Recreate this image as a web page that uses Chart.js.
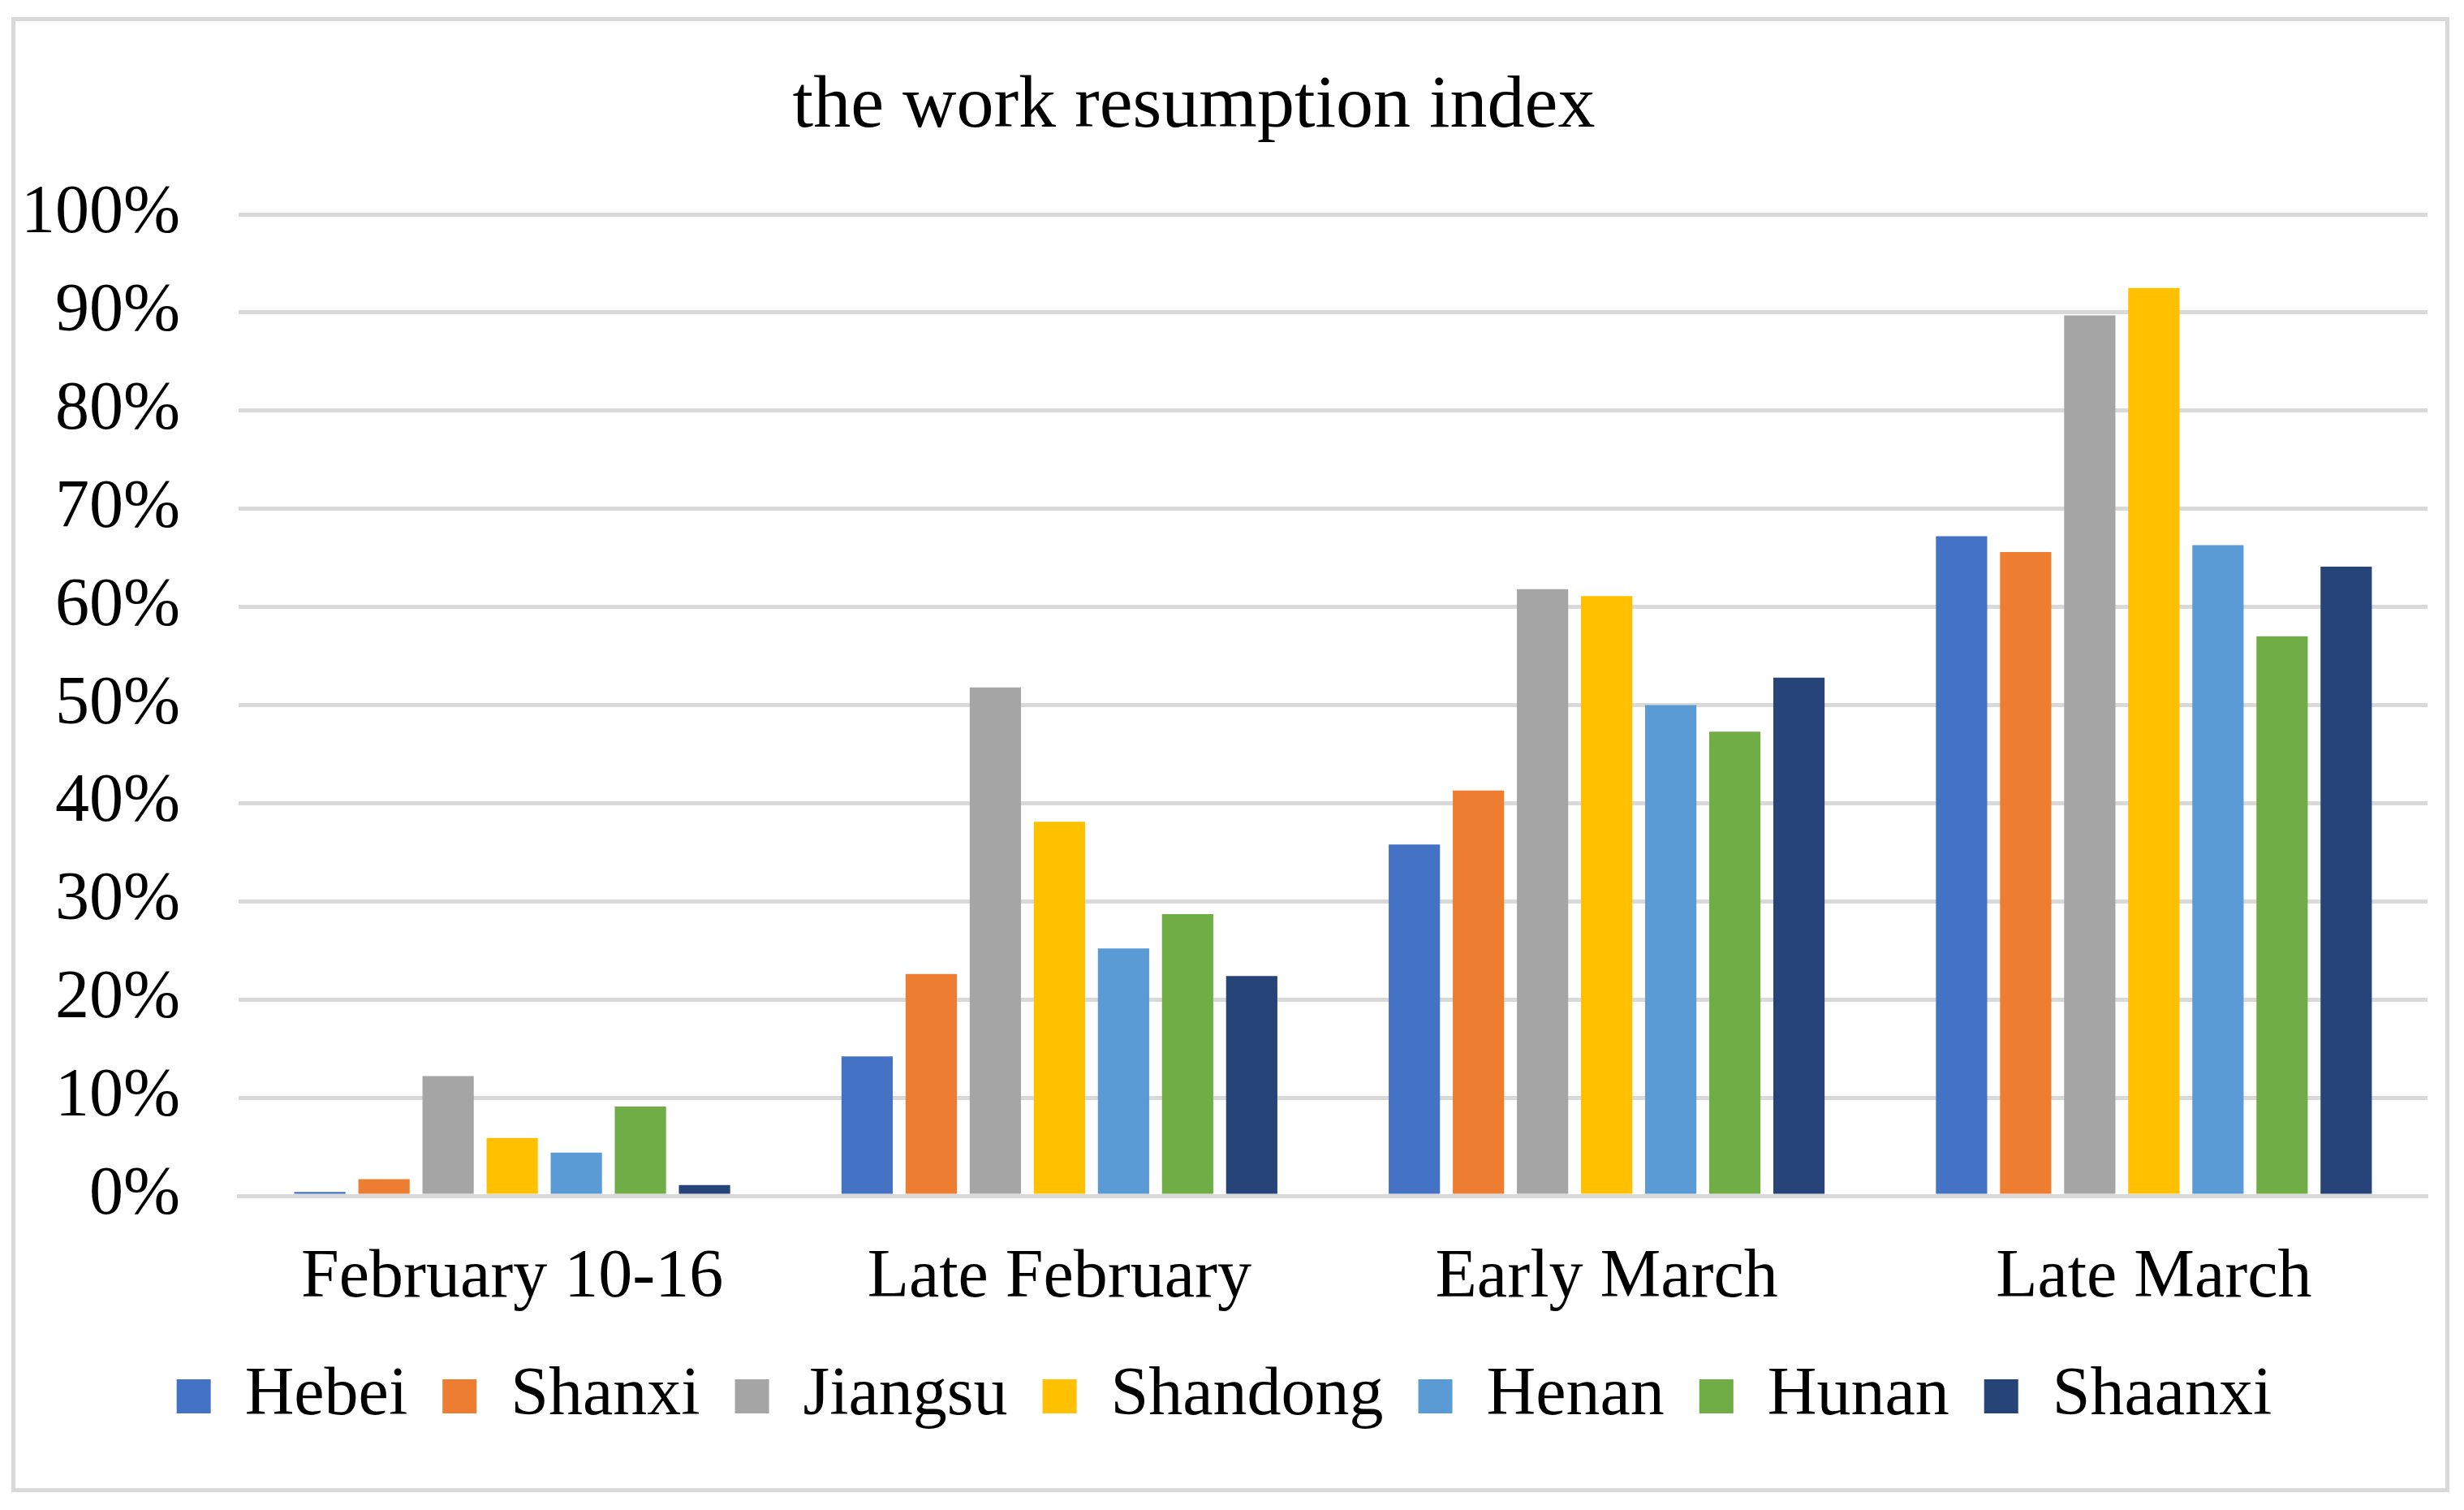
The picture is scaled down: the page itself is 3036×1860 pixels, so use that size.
<!DOCTYPE html>
<html>
<head>
<meta charset="utf-8">
<script src="https://cdn.jsdelivr.net/npm/chart.js@4.4.1/dist/chart.umd.min.js"></script>
<style>
  html, body { margin: 0; padding: 0; background: #fff; }
  #wrap { position: relative; width: 3036px; height: 1860px; }
  #frame {
    position: absolute; left: 14px; top: 21px; width: 3004px; height: 1817px;
    border: 5px solid #d9d9d9; box-sizing: border-box; pointer-events: none;
  }
  #title {
    position: absolute; left: 0; width: 2942px; top: 79px; text-align: center;
    font-family: 'Liberation Serif', 'Times New Roman', serif; font-size: 92px;
    line-height: 1; color: #000; white-space: nowrap;
  }
</style>
</head>
<body>
<div id="wrap">
  <canvas id="chartBar" width="3036" height="1860" style="width:3036px;height:1860px"></canvas>
  <div id="title">the work resumption index</div>
  <div id="frame"></div>
</div>
<script>
/* data (percent) */
var periods = ['February 10-16', 'Late February', 'Early March', 'Late March'];
var hebei    = [0.4, 14.2, 35.8, 67.2];
var shanxi   = [1.7, 22.6, 41.3, 65.6];
var jiangsu  = [12.2, 51.8, 61.8, 89.7];
var shandong = [5.9, 38.1, 61.1, 92.5];
var henan    = [4.4, 25.2, 50.0, 66.3];
var hunan    = [9.1, 28.7, 47.3, 57.0];
var shaanxi  = [1.1, 22.4, 52.8, 64.1];
var yTicks = [0, 10, 20, 30, 40, 50, 60, 70, 80, 90, 100];

var fontFamily = "'Liberation Serif', 'Times New Roman', serif";

function series(label, data, color) {
    return {
        label: label,
        data: data,
        backgroundColor: color,
        borderWidth: 0,
        categoryPercentage: 0.82,
        barPercentage: 0.8
    };
}

var ctx = document.getElementById('chartBar').getContext('2d');
new Chart(ctx, {
    type: 'bar',
    data: {
        labels: periods,
        datasets: [
            series('Hebei', hebei, '#4472C4'),
            series('Shanxi', shanxi, '#ED7D31'),
            series('Jiangsu', jiangsu, '#A5A5A5'),
            series('Shandong', shandong, '#FFC000'),
            series('Henan', henan, '#5B9BD5'),
            series('Hunan', hunan, '#70AD47'),
            series('Shaanxi', shaanxi, '#264478')
        ]
    },
    options: {
        responsive: false,
        animation: false,
        devicePixelRatio: 1,
        layout: { padding: { left: 26, right: 45, top: 264, bottom: 88 } },
        plugins: {
            title: { display: false },
            legend: {
                position: 'bottom',
                labels: {
                    color: '#000',
                    font: { family: fontFamily, size: 84 },
                    boxWidth: 42,
                    boxHeight: 42,
                    padding: 43
                }
            },
            tooltip: { enabled: false }
        },
        scales: {
            x: {
                afterFit: function (scale) { scale.height = 162; },
                grid: { display: false },
                border: { display: true, color: '#d9d9d9', width: 5 },
                ticks: {
                    color: '#000',
                    font: { family: fontFamily, size: 84 },
                    padding: 44
                }
            },
            y: {
                min: 0,
                max: 100,
                afterFit: function (scale) { scale.width = 268; },
                afterBuildTicks: function (axis) {
                    axis.ticks = yTicks.map(function (v) { return { value: v }; });
                },
                grid: { color: '#d9d9d9', lineWidth: 5, drawTicks: false },
                border: { display: false },
                ticks: {
                    color: '#000',
                    font: { family: fontFamily, size: 84 },
                    padding: 72,
                    callback: function (v) { return v + '%'; }
                }
            }
        }
    }
});
</script>
</body>
</html>
